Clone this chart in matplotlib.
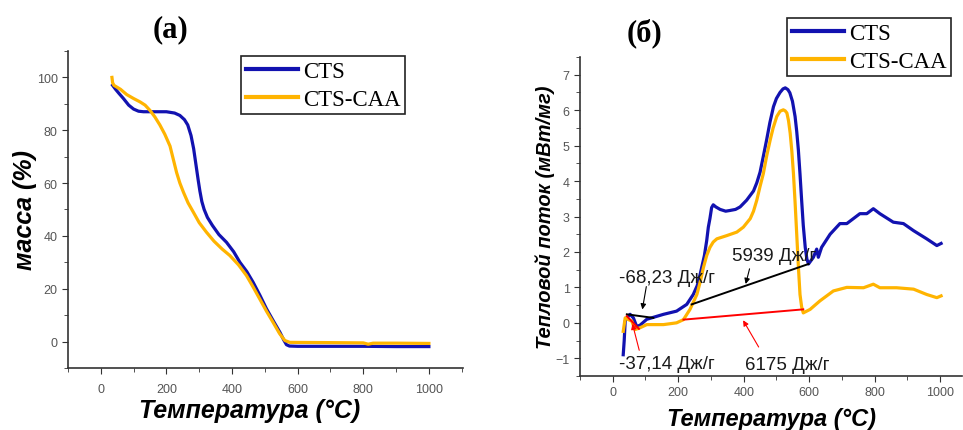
import matplotlib.pyplot as plt
from matplotlib.ticker import MultipleLocator

# --- TGA data (a) ---
tga_cts_t = [36, 45, 55, 69, 85, 100, 115, 130, 160, 200, 225, 241, 255, 265, 275,
             283, 290, 297, 302, 308, 315, 325, 340, 360, 383, 405, 424, 445, 464,
             485, 505, 525, 546, 558, 566, 575, 600, 700, 800, 900, 1000]
tga_cts_m = [97, 95.5, 94, 92, 89.5, 88, 87.2, 87, 87, 87, 86.5, 85.6, 84, 82, 78,
             73, 67, 61, 57, 53, 50, 47, 44, 40.5, 37.6, 34, 30, 26.5, 22.5,
             17.5, 12.4, 8, 3.5, 0.5, -1.2, -1.7, -1.8, -1.8, -1.8, -1.9, -1.9]

tga_caa_t = [34, 36, 40, 60, 79, 100, 120, 135, 150, 165, 180, 195, 211, 221, 231,
             241, 252, 266, 282, 300, 322, 345, 370, 393, 420, 444, 465, 485, 505,
             525, 545, 561, 576, 700, 800, 815, 830, 900, 1000]
tga_caa_m = [100, 98, 97, 95.5, 93.5, 92, 90.7, 89.5, 87.5, 85, 82, 78.5, 74, 69, 64,
             60, 56.5, 52.5, 49, 45, 41.4, 38, 35, 32.6, 29, 25, 20.5, 16, 11.5,
             7.3, 3, 0.4, -0.3, -0.4, -0.5, -1.0, -0.6, -0.6, -0.7]

# --- DSC data (b) ---
dsc_cts_t = [32, 35, 38, 43, 53, 63, 73, 83, 104, 155, 195, 226, 246, 258, 267,
             280, 287, 292, 297, 302, 307, 315, 328, 345, 358, 375, 389, 409, 430,
             440, 450, 460, 470, 480, 491, 500, 511, 520, 527, 535, 541, 549, 557,
             562, 567, 572, 577, 582, 588, 593, 598, 613, 623, 628, 638, 664, 694,
             715, 755, 776, 796, 816, 857, 888, 919, 959, 990, 1003]
dsc_cts_q = [-0.9, -0.5, 0.05, 0.14, 0.24, 0.14, -0.1, -0.07, 0.1, 0.24, 0.33, 0.52,
             0.8, 1.05, 1.37, 1.9, 2.32, 2.7, 2.95, 3.25, 3.33, 3.27, 3.2, 3.15,
             3.17, 3.2, 3.27, 3.46, 3.72, 3.95, 4.25, 4.7, 5.16, 5.65, 6.1, 6.33,
             6.5, 6.6, 6.63, 6.58, 6.49, 6.25, 5.82, 5.4, 4.88, 4.2, 3.46, 2.75,
             2.13, 1.8, 1.66, 1.85, 2.08, 1.85, 2.13, 2.5, 2.8, 2.8, 3.08, 3.08,
             3.22, 3.08, 2.84, 2.8, 2.6, 2.37, 2.18, 2.24]

dsc_caa_t = [32, 38, 48, 58, 68, 83, 104, 155, 195, 216, 236, 257, 267, 277, 287,
             297, 307, 318, 348, 379, 399, 420, 430, 440, 450, 460, 470, 481, 490,
             501, 511, 521, 527, 532, 537, 542, 547, 552, 557, 562, 567, 572, 577,
             582, 603, 633, 674, 715, 766, 796, 816, 867, 919, 959, 990, 1003]
dsc_caa_q = [-0.24, 0.14, 0.09, 0.05, -0.19, -0.14, -0.05, -0.05, 0.0, 0.09, 0.38,
             0.8, 1.15, 1.56, 1.9, 2.13, 2.28, 2.37, 2.46, 2.56, 2.7, 2.94, 3.15,
             3.46, 3.85, 4.21, 4.7, 5.16, 5.5, 5.82, 5.97, 6.01, 5.98, 5.92, 5.7,
             5.35, 4.85, 4.21, 3.4, 2.5, 1.6, 0.8, 0.45, 0.28, 0.38, 0.62, 0.9, 1.0,
             0.99, 1.09, 0.99, 0.99, 0.95, 0.8, 0.71, 0.76]

# integration baselines
base_black_t = [[43, 124], [241, 598]]
base_black_q = [[0.24, 0.14], [0.52, 1.66]]
base_red_t = [[43, 80], [216, 582]]
base_red_q = [[0.19, -0.17], [0.09, 0.38]]

# annotations: label, text pos, arrow tip, arrow start, colour
notes = [
    ("-68,23 Дж/г", (20, 1.28), (89, 0.30), (104, 1.1), "black"),
    ("5939 Дж/г", (363, 1.9), (404, 1.02), (420, 1.6), "black"),
    ("-37,14 Дж/г", (20, -1.14), (58, 0.05), (83, -0.85), "red"),
    ("6175 Дж/г", (404, -1.18), (394, 0.14), (450, -0.75), "red"),
]

BLUE = "#1212b0"
YELLOW = "#ffb400"

fig = plt.figure(figsize=(9.63, 4.31), dpi=100)
ax1 = fig.add_axes([0.0706, 0.1439, 0.4102, 0.7355])
ax2 = fig.add_axes([0.6023, 0.1253, 0.3967, 0.7401])

lab_font = dict(family="Liberation Sans", weight="bold", style="italic")


def style_axes(ax, pad):
    for s in ("top", "right"):
        ax.spines[s].set_visible(False)
    for s in ("left", "bottom"):
        ax.spines[s].set_color("#333333")
        ax.spines[s].set_linewidth(1.2)
    ax.tick_params(which="both", direction="out", color="#333333",
                   labelcolor="#555555", labelsize=9)
    ax.tick_params(axis="x", pad=pad)
    ax.tick_params(which="major", length=4)
    ax.tick_params(which="minor", length=3)
    for t in ax.get_xticklabels() + ax.get_yticklabels():
        t.set_family("Liberation Sans")
    ax.xaxis.set_major_locator(MultipleLocator(200))
    ax.xaxis.set_minor_locator(MultipleLocator(100))


# (a)
ax1.plot(tga_cts_t, tga_cts_m, color=BLUE, lw=2.3, label="CTS")
ax1.plot(tga_caa_t, tga_caa_m, color=YELLOW, lw=2.3, label="CTS-CAA")
ax1.set_xlim(-100, 1104)
ax1.set_ylim(-10, 110)
ax1.yaxis.set_major_locator(MultipleLocator(20))
ax1.yaxis.set_minor_locator(MultipleLocator(10))
style_axes(ax1, 6.5)
ax1.set_xlabel("Температура (°C)", fontsize=18, **lab_font)
ax1.xaxis.set_label_coords(0.46, -0.094)
ax1.set_ylabel("масса (%)", fontsize=18, labelpad=0, **lab_font)

# (б)
ax2.plot(dsc_cts_t, dsc_cts_q, color=BLUE, lw=2.3, label="CTS")
ax2.plot(dsc_caa_t, dsc_caa_q, color=YELLOW, lw=2.3, label="CTS-CAA")
for bt, bq in zip(base_black_t, base_black_q):
    ax2.plot(bt, bq, color="black", lw=1.4)
for bt, bq in zip(base_red_t, base_red_q):
    ax2.plot(bt, bq, color="red", lw=1.4)
for text, pos, tip, start, col in notes:
    ax2.annotate("", xy=tip, xytext=start,
                 arrowprops=dict(arrowstyle="-|>", color=col, lw=0.8,
                                 mutation_scale=8))
    ax2.text(pos[0], pos[1], text, fontsize=13.5, family="Liberation Sans",
             color="#1a1a1a", va="center", ha="left")
ax2.set_xlim(-100, 1067)
ax2.set_ylim(-1.5, 7.5)
ax2.yaxis.set_major_locator(MultipleLocator(1))
ax2.yaxis.set_minor_locator(MultipleLocator(0.5))
style_axes(ax2, 3.5)
ax2.set_xlabel("Температура (°C)", fontsize=17, labelpad=6, **lab_font)
ax2.set_ylabel("Тепловой поток (мВт/мг)", fontsize=14.5, labelpad=0.5, **lab_font)

for ax, anchor in ((ax1, (0.438, 0.984)), (ax2, (0.542, 1.122))):
    leg = ax.legend(loc="upper left", bbox_to_anchor=anchor, borderaxespad=0,
                    prop=dict(family="Liberation Serif", size=16.5),
                    handlelength=2.3, handletextpad=0.2, labelspacing=0.3,
                    borderpad=0.2, fancybox=False, framealpha=1)
    leg.get_frame().set_edgecolor("#222222")
    leg.get_frame().set_linewidth(1.2)
    for line in leg.get_lines():
        line.set_linewidth(3)

fig.text(170 / 963, 1 - 30 / 431, "(a)", fontsize=22, weight="bold",
         family="Liberation Serif", ha="center", va="center")
fig.text(645 / 963, 1 - 33 / 431, "(б)", fontsize=22, weight="bold",
         family="Liberation Serif", ha="center", va="center")

fig.savefig("out.png", dpi=100)
